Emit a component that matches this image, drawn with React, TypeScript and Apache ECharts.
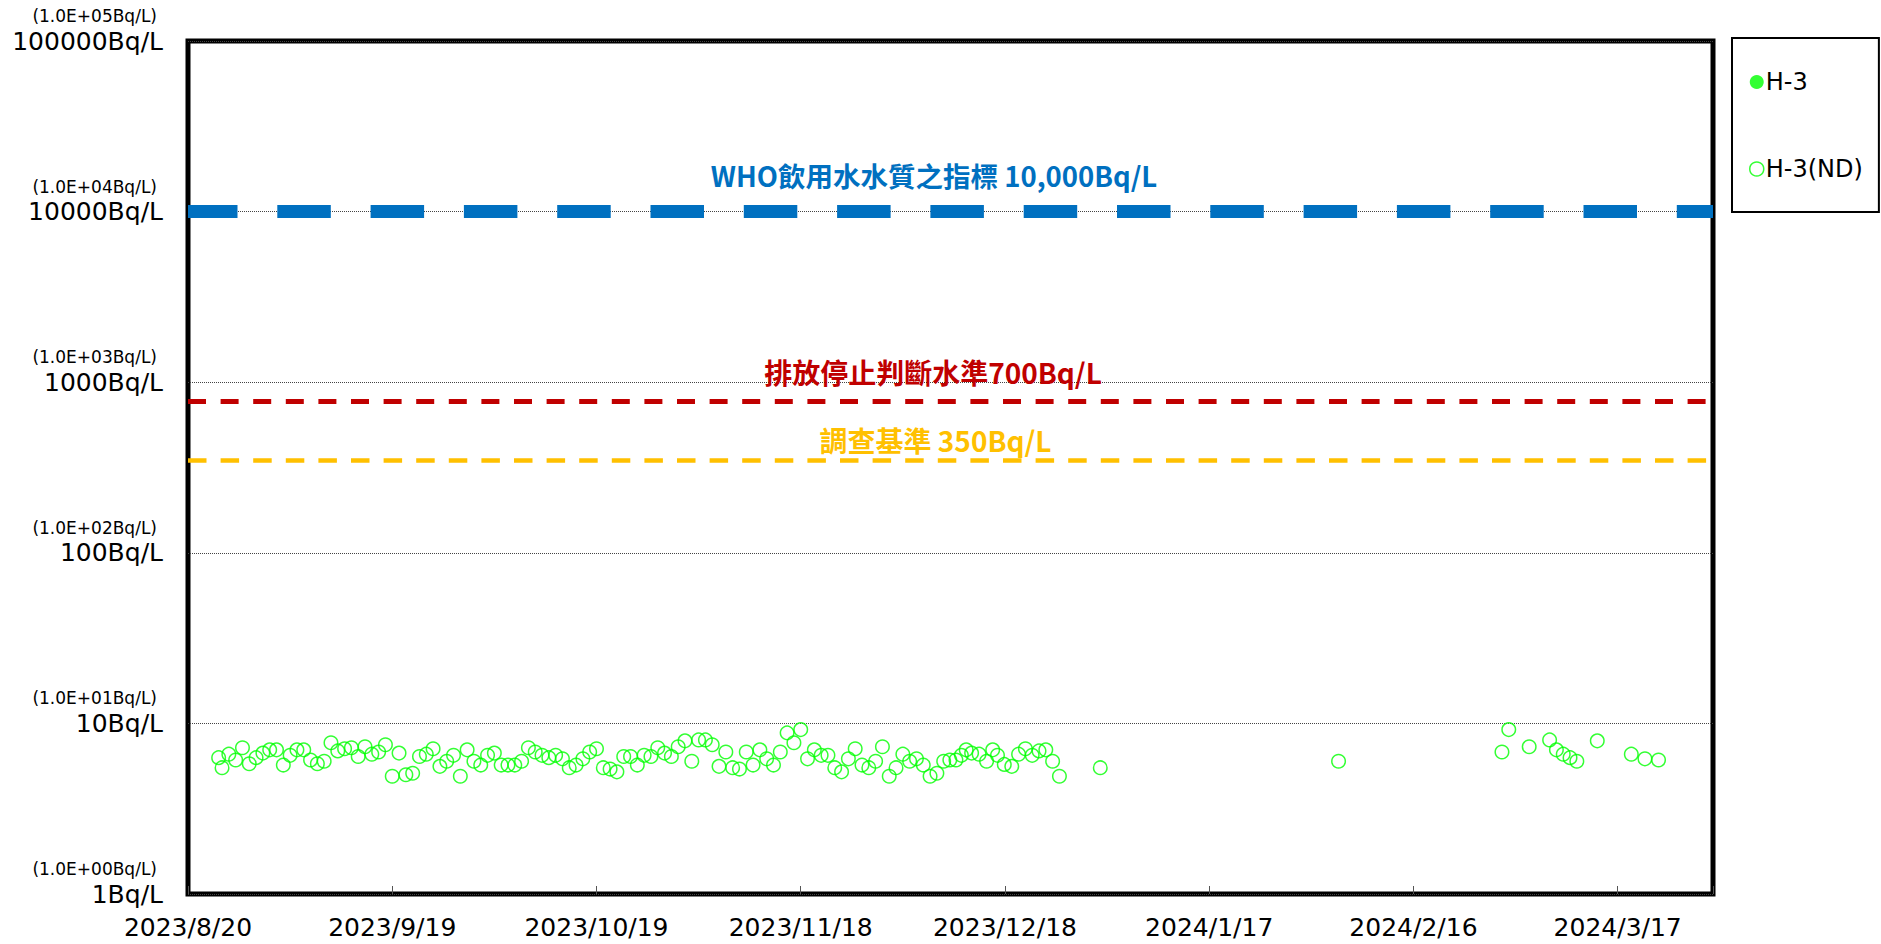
import React, { useEffect, useRef } from 'react';
import * as echarts from 'echarts';

// x axis: days since 2023/8/20
const START_UTC = Date.UTC(2023, 7, 20);
const X_MAX_DAYS = 224;
const X_TICK_DAYS = 30;

// H-3 (ND) samples: day offset since 2023/8/20 and detection-limit value (Bq/L)
const ndDays = [
  4.5, 5, 6, 7, 8, 9, 10, 11, 12, 13, 14, 15, 16, 17, 18, 19, 20, 21, 22, 23,
  24, 25, 26, 27, 28, 29, 30, 31, 32, 33, 34, 35, 36, 37, 38, 39, 40, 41, 42, 43,
  44, 45, 46, 47, 48, 49, 50, 51, 52, 53, 54, 55, 56, 57, 58, 59, 60, 61, 62, 63,
  64, 65, 66, 67, 68, 69, 70, 71, 72, 73, 74, 75, 76, 77, 78, 79, 80, 81, 82, 83,
  84, 85, 86, 87, 88, 89, 90, 91, 92, 93, 94, 95, 96, 97, 98, 99, 100, 101, 102, 103,
  104, 105, 106, 107, 108, 109, 110, 111, 111.9, 112.8, 113.6, 114.3, 115.1, 116.2, 117.3, 118.2,
  118.9, 119.9, 121, 122, 123, 124, 125, 126, 127, 128, 134, 169, 193, 194, 197, 200,
  201, 202, 203, 204, 207, 212, 214, 216,
];
const ndValues = [
  6.3, 5.5, 6.6, 6.1, 7.2, 5.8, 6.3, 6.7, 7.0, 7.0, 5.7, 6.5, 7.0, 7.0, 6.1, 5.8, 6.0, 7.7, 6.9, 7.1,
  7.2, 6.4, 7.3, 6.6, 6.8, 7.5, 4.9, 6.7, 5.0, 5.1, 6.4, 6.6, 7.1, 5.6, 6.0, 6.5, 4.9, 7.0, 6.0, 5.7,
  6.5, 6.7, 5.7, 5.7, 5.7, 6.0, 7.2, 6.8, 6.5, 6.3, 6.5, 6.2, 5.5, 5.7, 6.2, 6.8, 7.1, 5.5, 5.4, 5.2,
  6.4, 6.4, 5.7, 6.5, 6.4, 7.2, 6.7, 6.4, 7.3, 7.9, 6.0, 8.0, 8.0, 7.5, 5.6, 6.8, 5.5, 5.4, 6.8, 5.7,
  7.0, 6.2, 5.7, 6.8, 8.8, 7.7, 9.2, 6.2, 7.0, 6.5, 6.5, 5.5, 5.2, 6.2, 7.1, 5.7, 5.5, 6.0, 7.3, 4.9,
  5.5, 6.6, 6.0, 6.2, 5.7, 4.9, 5.1, 6.0, 6.1, 6.1, 6.5, 7.0, 6.7, 6.6, 6.0, 7.0,
  6.5, 5.75, 5.6, 6.6, 7.1, 6.5, 6.9, 7.0, 6.0, 4.9, 5.5, 6.0, 6.8, 9.2, 7.3, 8.0,
  7.0, 6.6, 6.3, 6.0, 7.9, 6.6, 6.2, 6.1,
];
// H-3 (detected): no detections in this period
const detDays: number[] = [];
const detValues: number[] = [];

// y axis ticks
const yTickValues = [1, 10, 100, 1000, 10000, 100000];
const yTickSci = ['(1.0E+00Bq/L)', '(1.0E+01Bq/L)', '(1.0E+02Bq/L)', '(1.0E+03Bq/L)', '(1.0E+04Bq/L)', '(1.0E+05Bq/L)'];
const yTickPlain = ['1Bq/L', '10Bq/L', '100Bq/L', '1000Bq/L', '10000Bq/L', '100000Bq/L'];

// reference levels
const refValues = [10000, 775, 350];
const refLabels = ['WHO飲用水水質之指標 10,000Bq/L', '排放停止判斷水準700Bq/L', '調查基準 350Bq/L'];
const refColors = ['#0070C0', '#C00000', '#FFC000'];

const fmtDay = (d: number) => {
  const dt = new Date(START_UTC + d * 86400000);
  return `${dt.getUTCFullYear()}/${dt.getUTCMonth() + 1}/${dt.getUTCDate()}`;
};

export default function App() {
  const ref = useRef<HTMLDivElement>(null);
  useEffect(() => {
    if (!ref.current) return;
    const chart = echarts.init(ref.current, null, { renderer: 'svg' });
    const lineStyles = [
      { color: refColors[0], width: 13, type: [53.5, 39.8], dashOffset: 4 },
      { color: refColors[1], width: 5, type: [18, 14.6] },
      { color: refColors[2], width: 4.5, type: [18.5, 14.1] },
    ];
    const labelCfg = [
      { fontSize: 27.5, distance: 23, offset: [-16.5, 0] },
      { fontSize: 28, distance: 15, offset: [-17.5, 0] },
      { fontSize: 28, distance: 5.5, offset: [-15, 0] },
    ];
    chart.setOption({
      animation: false,
      backgroundColor: '#fff',
      grid: {
        left: 188, right: 168, top: 41, bottom: 50,
        show: true, borderColor: '#000', borderWidth: 5, backgroundColor: 'transparent',
      },
      xAxis: {
        type: 'value', min: 0, max: X_MAX_DAYS, interval: X_TICK_DAYS,
        axisLine: { show: false },
        axisTick: { show: true, inside: true, length: 8, lineStyle: { color: '#555', width: 1 } },
        splitLine: { show: false },
        axisLabel: {
          margin: 21, color: '#000', fontSize: 25, fontFamily: 'DejaVu Sans',
          formatter: (v: number) => (v % X_TICK_DAYS === 0 ? fmtDay(v) : ''),
        },
      },
      yAxis: {
        type: 'log', logBase: 10, min: 1, max: 100000,
        axisLine: { show: false },
        axisTick: { show: false },
        splitLine: { show: true, lineStyle: { color: '#444', width: 1, type: [1, 1] } },
        axisLabel: {
          margin: 25, color: '#000', fontFamily: 'DejaVu Sans',
          formatter: (v: number) => {
            const i = yTickValues.findIndex((t) => Math.abs(t - v) / t < 1e-6);
            if (i < 0) return '';
            return `{s|${yTickSci[i]}}\n{b|${yTickPlain[i]}}\n{e|}`;
          },
          rich: {
            s: { fontSize: 17, lineHeight: 22, color: '#000', fontFamily: 'DejaVu Sans', padding: [0, 6, 0, 0] },
            b: { fontSize: 25, lineHeight: 28, color: '#000', fontFamily: 'DejaVu Sans' },
            e: { fontSize: 17, lineHeight: 22 },
          },
        },
      },
      legend: {
        orient: 'vertical', left: 1732, top: 38,
        itemWidth: 14, itemHeight: 14, itemGap: 63,
        padding: [32, 16, 31, 17],
        borderColor: '#000', borderWidth: 2,
        textStyle: { fontSize: 24, color: '#000', fontFamily: 'DejaVu Sans', padding: [0, 0, 0, -3] },
        data: [
          { name: 'H-3', icon: 'circle', itemStyle: { color: '#00FF00', borderWidth: 0 } },
          { name: 'H-3(ND)', icon: 'circle', itemStyle: { color: '#fff', borderColor: '#00FF00', borderWidth: 1.5 } },
        ],
      },
      series: [
        {
          name: 'H-3', type: 'scatter', symbol: 'circle', symbolSize: 14,
          itemStyle: { color: '#00FF00' },
          data: detDays.map((d, i) => [d, detValues[i]]),
        },
        {
          name: 'H-3(ND)', type: 'scatter', symbol: 'circle', symbolSize: 13.5,
          itemStyle: { color: 'rgba(255,255,255,0)', borderColor: '#00FF00', borderWidth: 1.5 },
          data: ndDays.map((d, i) => [d, ndValues[i]]),
          markLine: {
            silent: true, symbol: 'none',
            data: refValues.map((v, i) => ({
              yAxis: v,
              lineStyle: lineStyles[i],
              label: {
                show: true, position: 'insideMiddleTop', formatter: refLabels[i],
                color: refColors[i], fontWeight: 'bold', fontFamily: 'Noto Sans CJK TC',
                fontSize: labelCfg[i].fontSize, distance: labelCfg[i].distance, offset: labelCfg[i].offset,
              },
            })),
          },
        },
      ],
    });
    return () => chart.dispose();
  }, []);
  return <div ref={ref} style={{ position: 'absolute', left: 0, top: 0, width: 1881, height: 944 }} />;
}
